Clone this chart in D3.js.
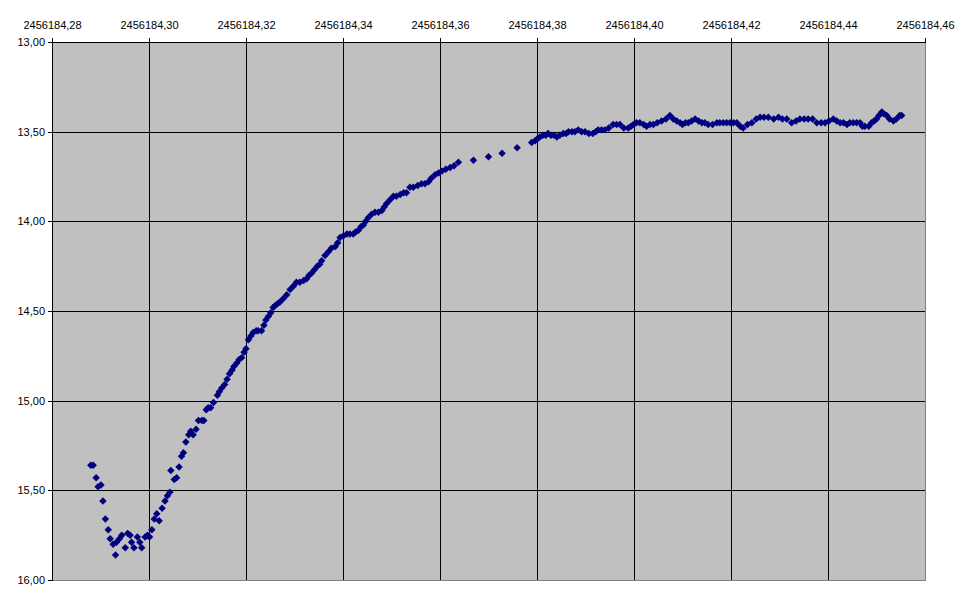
<!DOCTYPE html>
<html>
<head>
<meta charset="utf-8">
<script src="https://cdnjs.cloudflare.com/ajax/libs/d3/7.8.5/d3.min.js"></script>
<style>
  html, body { margin: 0; padding: 0; background: #ffffff; }
  svg { display: block; }
  text { font-family: "Liberation Sans", Arial, sans-serif; font-size: 11px; fill: #000; }
</style>
</head>
<body>
<svg id="chart" width="970" height="604"></svg>
<script>
// Julian date base and fractional times (JD = jdBase + jdFrac)
const jdBase = 2456184;
const jdFrac = [
0.2880,0.2885,0.2891,0.2895,0.2901,0.2905,0.2910,0.2916,0.2920,0.2926,0.2931,0.2933,0.2939,0.2944,0.2951,0.2956,0.2961,0.2964,0.2969,0.2976,
0.2981,0.2985,0.2992,0.2997,0.3001,0.3006,0.3011,0.3016,0.3021,0.3027,0.3033,0.3038,0.3043,0.3045,0.3052,0.3057,0.3062,0.3067,0.3071,0.3076,
0.3082,0.3086,0.3091,0.3097,0.3102,0.3109,0.3113,0.3118,0.3122,0.3127,0.3133,0.3141,0.3145,0.3150,0.3156,0.3161,0.3166,0.3171,0.3175,0.3181,
0.3186,0.3191,0.3196,0.3200,0.3205,0.3210,0.3215,0.3221,0.3225,0.3232,0.3237,0.3241,0.3246,0.3251,0.3256,0.3260,0.3265,0.3270,0.3277,0.3284,
0.3291,0.3298,0.3304,0.3311,0.3319,0.3325,0.3330,0.3335,0.3341,0.3347,0.3352,0.3356,0.3363,0.3370,0.3376,0.3384,0.3389,0.3394,0.3401,0.3408,
0.3414,0.3421,0.3426,0.3432,0.3437,0.3442,0.3447,0.3452,0.3459,0.3466,0.3473,0.3480,0.3485,0.3490,0.3497,0.3504,0.3510,0.3518,0.3525,0.3531,
0.3538,0.3545,0.3554,0.3562,0.3569,0.3576,0.3582,0.3590,0.3597,0.3604,0.3612,0.3621,0.3629,0.3638,0.3669,0.3700,0.3728,0.3759,0.3789,0.3796,
0.3801,0.3806,0.3812,0.3818,0.3823,0.3829,0.3835,0.3841,0.3847,0.3854,0.3860,0.3865,0.3872,0.3878,0.3885,0.3892,0.3899,0.3907,0.3915,0.3921,
0.3926,0.3933,0.3940,0.3948,0.3957,0.3964,0.3971,0.3979,0.3988,0.3994,0.3999,0.4005,0.4012,0.4020,0.4026,0.4033,0.4040,0.4048,0.4057,0.4066,
0.4074,0.4081,0.4088,0.4095,0.4100,0.4106,0.4112,0.4119,0.4126,0.4133,0.4140,0.4146,0.4153,0.4162,0.4171,0.4177,0.4184,0.4191,0.4198,0.4205,
0.4212,0.4219,0.4225,0.4234,0.4243,0.4252,0.4260,0.4268,0.4277,0.4288,0.4298,0.4306,0.4315,0.4325,0.4334,0.4342,0.4351,0.4359,0.4368,0.4377,
0.4386,0.4394,0.4402,0.4411,0.4418,0.4425,0.4432,0.4439,0.4445,0.4452,0.4459,0.4466,0.4471,0.4476,0.4484,0.4490,0.4495,0.4500,0.4505,0.4511,
0.4515,0.4521,0.4527,0.4535,0.4541,0.4548,0.4552
];
// Magnitudes
const mag = [
15.36,15.36,15.43,15.48,15.47,15.56,15.66,15.72,15.77,15.80,15.86,15.79,15.77,15.75,15.82,15.74,15.75,15.79,15.82,15.76,
15.79,15.82,15.76,15.75,15.76,15.72,15.66,15.63,15.67,15.60,15.56,15.53,15.51,15.39,15.44,15.43,15.37,15.31,15.29,15.23,
15.19,15.17,15.19,15.16,15.11,15.11,15.11,15.05,15.04,15.04,15.01,14.97,14.95,14.93,14.91,14.88,14.85,14.83,14.81,14.79,
14.77,14.76,14.73,14.71,14.66,14.64,14.62,14.61,14.61,14.61,14.58,14.55,14.53,14.51,14.48,14.47,14.46,14.45,14.43,14.41,
14.38,14.36,14.34,14.34,14.33,14.32,14.30,14.29,14.27,14.25,14.24,14.22,14.19,14.17,14.15,14.14,14.12,14.09,14.08,14.07,
14.07,14.07,14.06,14.05,14.03,14.02,14.00,13.98,13.96,13.95,13.95,13.94,13.92,13.90,13.88,13.86,13.86,13.85,13.84,13.84,
13.81,13.81,13.80,13.79,13.79,13.78,13.76,13.74,13.73,13.72,13.71,13.70,13.69,13.67,13.66,13.64,13.62,13.59,13.56,13.55,
13.54,13.53,13.52,13.52,13.51,13.52,13.52,13.53,13.52,13.51,13.51,13.50,13.50,13.50,13.49,13.50,13.50,13.51,13.51,13.50,
13.49,13.49,13.49,13.48,13.46,13.46,13.46,13.48,13.48,13.47,13.46,13.45,13.45,13.46,13.47,13.46,13.46,13.45,13.44,13.43,
13.41,13.43,13.44,13.45,13.46,13.45,13.45,13.44,13.43,13.44,13.45,13.45,13.46,13.46,13.45,13.45,13.45,13.45,13.45,13.45,
13.45,13.47,13.48,13.46,13.45,13.43,13.42,13.42,13.42,13.43,13.42,13.43,13.43,13.45,13.44,13.43,13.43,13.43,13.43,13.45,
13.45,13.45,13.44,13.43,13.44,13.45,13.45,13.46,13.45,13.45,13.45,13.45,13.47,13.47,13.47,13.45,13.44,13.43,13.41,13.39,
13.40,13.41,13.43,13.44,13.43,13.41,13.41
];
const xTickFrac = [0.28,0.30,0.32,0.34,0.36,0.38,0.40,0.42,0.44,0.46];
const yTicks = [13.0,13.5,14.0,14.5,15.0,15.5,16.0];

const data = jdFrac.map((f, i) => ({ jd: jdBase + f, m: mag[i] }));
const xTicks = xTickFrac.map(f => jdBase + f);

const margin = { left: 52, top: 42, right: 45, bottom: 24 };
const W = 970, H = 604;
const pw = W - margin.left - margin.right;   // 873
const ph = H - margin.top - margin.bottom;   // 538

const svg = d3.select("#chart");
const g = svg.append("g").attr("transform", `translate(${margin.left},${margin.top})`);

const x = d3.scaleLinear().domain([xTicks[0], xTicks[xTicks.length - 1]]).range([0, pw]);
const y = d3.scaleLinear().domain([13, 16]).range([0, ph]);

const fmt = d3.format(".2f");
const comma = v => fmt(v).replace(".", ",");

// plot background
g.append("rect").attr("x", 0).attr("y", 0).attr("width", pw).attr("height", ph)
  .attr("fill", "#c0c0c0").attr("stroke", "#808080").attr("stroke-width", 1)
  .attr("shape-rendering", "crispEdges");

// gridlines
g.append("g").selectAll("line").data(xTicks.slice(1, -1)).join("line")
  .attr("x1", d => Math.round(x(d)) + 0.5).attr("x2", d => Math.round(x(d)) + 0.5)
  .attr("y1", 0).attr("y2", ph).attr("stroke", "#000").attr("shape-rendering", "crispEdges");
g.append("g").selectAll("line").data(yTicks.slice(1, -1)).join("line")
  .attr("y1", d => Math.round(y(d)) + 0.5).attr("y2", d => Math.round(y(d)) + 0.5)
  .attr("x1", 0).attr("x2", pw).attr("stroke", "#000").attr("shape-rendering", "crispEdges");

// axes
const xAxis = d3.axisTop(x).tickValues(xTicks).tickFormat(comma).tickSize(4).tickPadding(9);
const yAxis = d3.axisLeft(y).tickValues(yTicks).tickFormat(comma).tickSize(4).tickPadding(3);

const gx = g.append("g").call(xAxis);
const gy = g.append("g").call(yAxis);
[gx, gy].forEach(a => {
  a.select(".domain").attr("stroke", "#000").attr("shape-rendering", "crispEdges");
  a.selectAll(".tick line").attr("stroke", "#000").attr("shape-rendering", "crispEdges");
  a.selectAll("text").attr("font-family", "'Liberation Sans', Arial, sans-serif").attr("font-size", 11).attr("fill", "#000");
});
gx.select(".domain").attr("d", `M0,-4V0.5H${pw}V-4`);
gy.select(".domain").attr("d", `M-4,0H0.5V${ph}H-4`);

// markers (diamonds)
const sym = d3.symbol().type(d3.symbolSquare).size(28);
g.append("g").selectAll("path").data(data).join("path")
  .attr("d", sym)
  .attr("transform", d => `translate(${x(d.jd)},${y(d.m)}) rotate(45)`)
  .attr("fill", "#000080");
</script>
</body>
</html>
